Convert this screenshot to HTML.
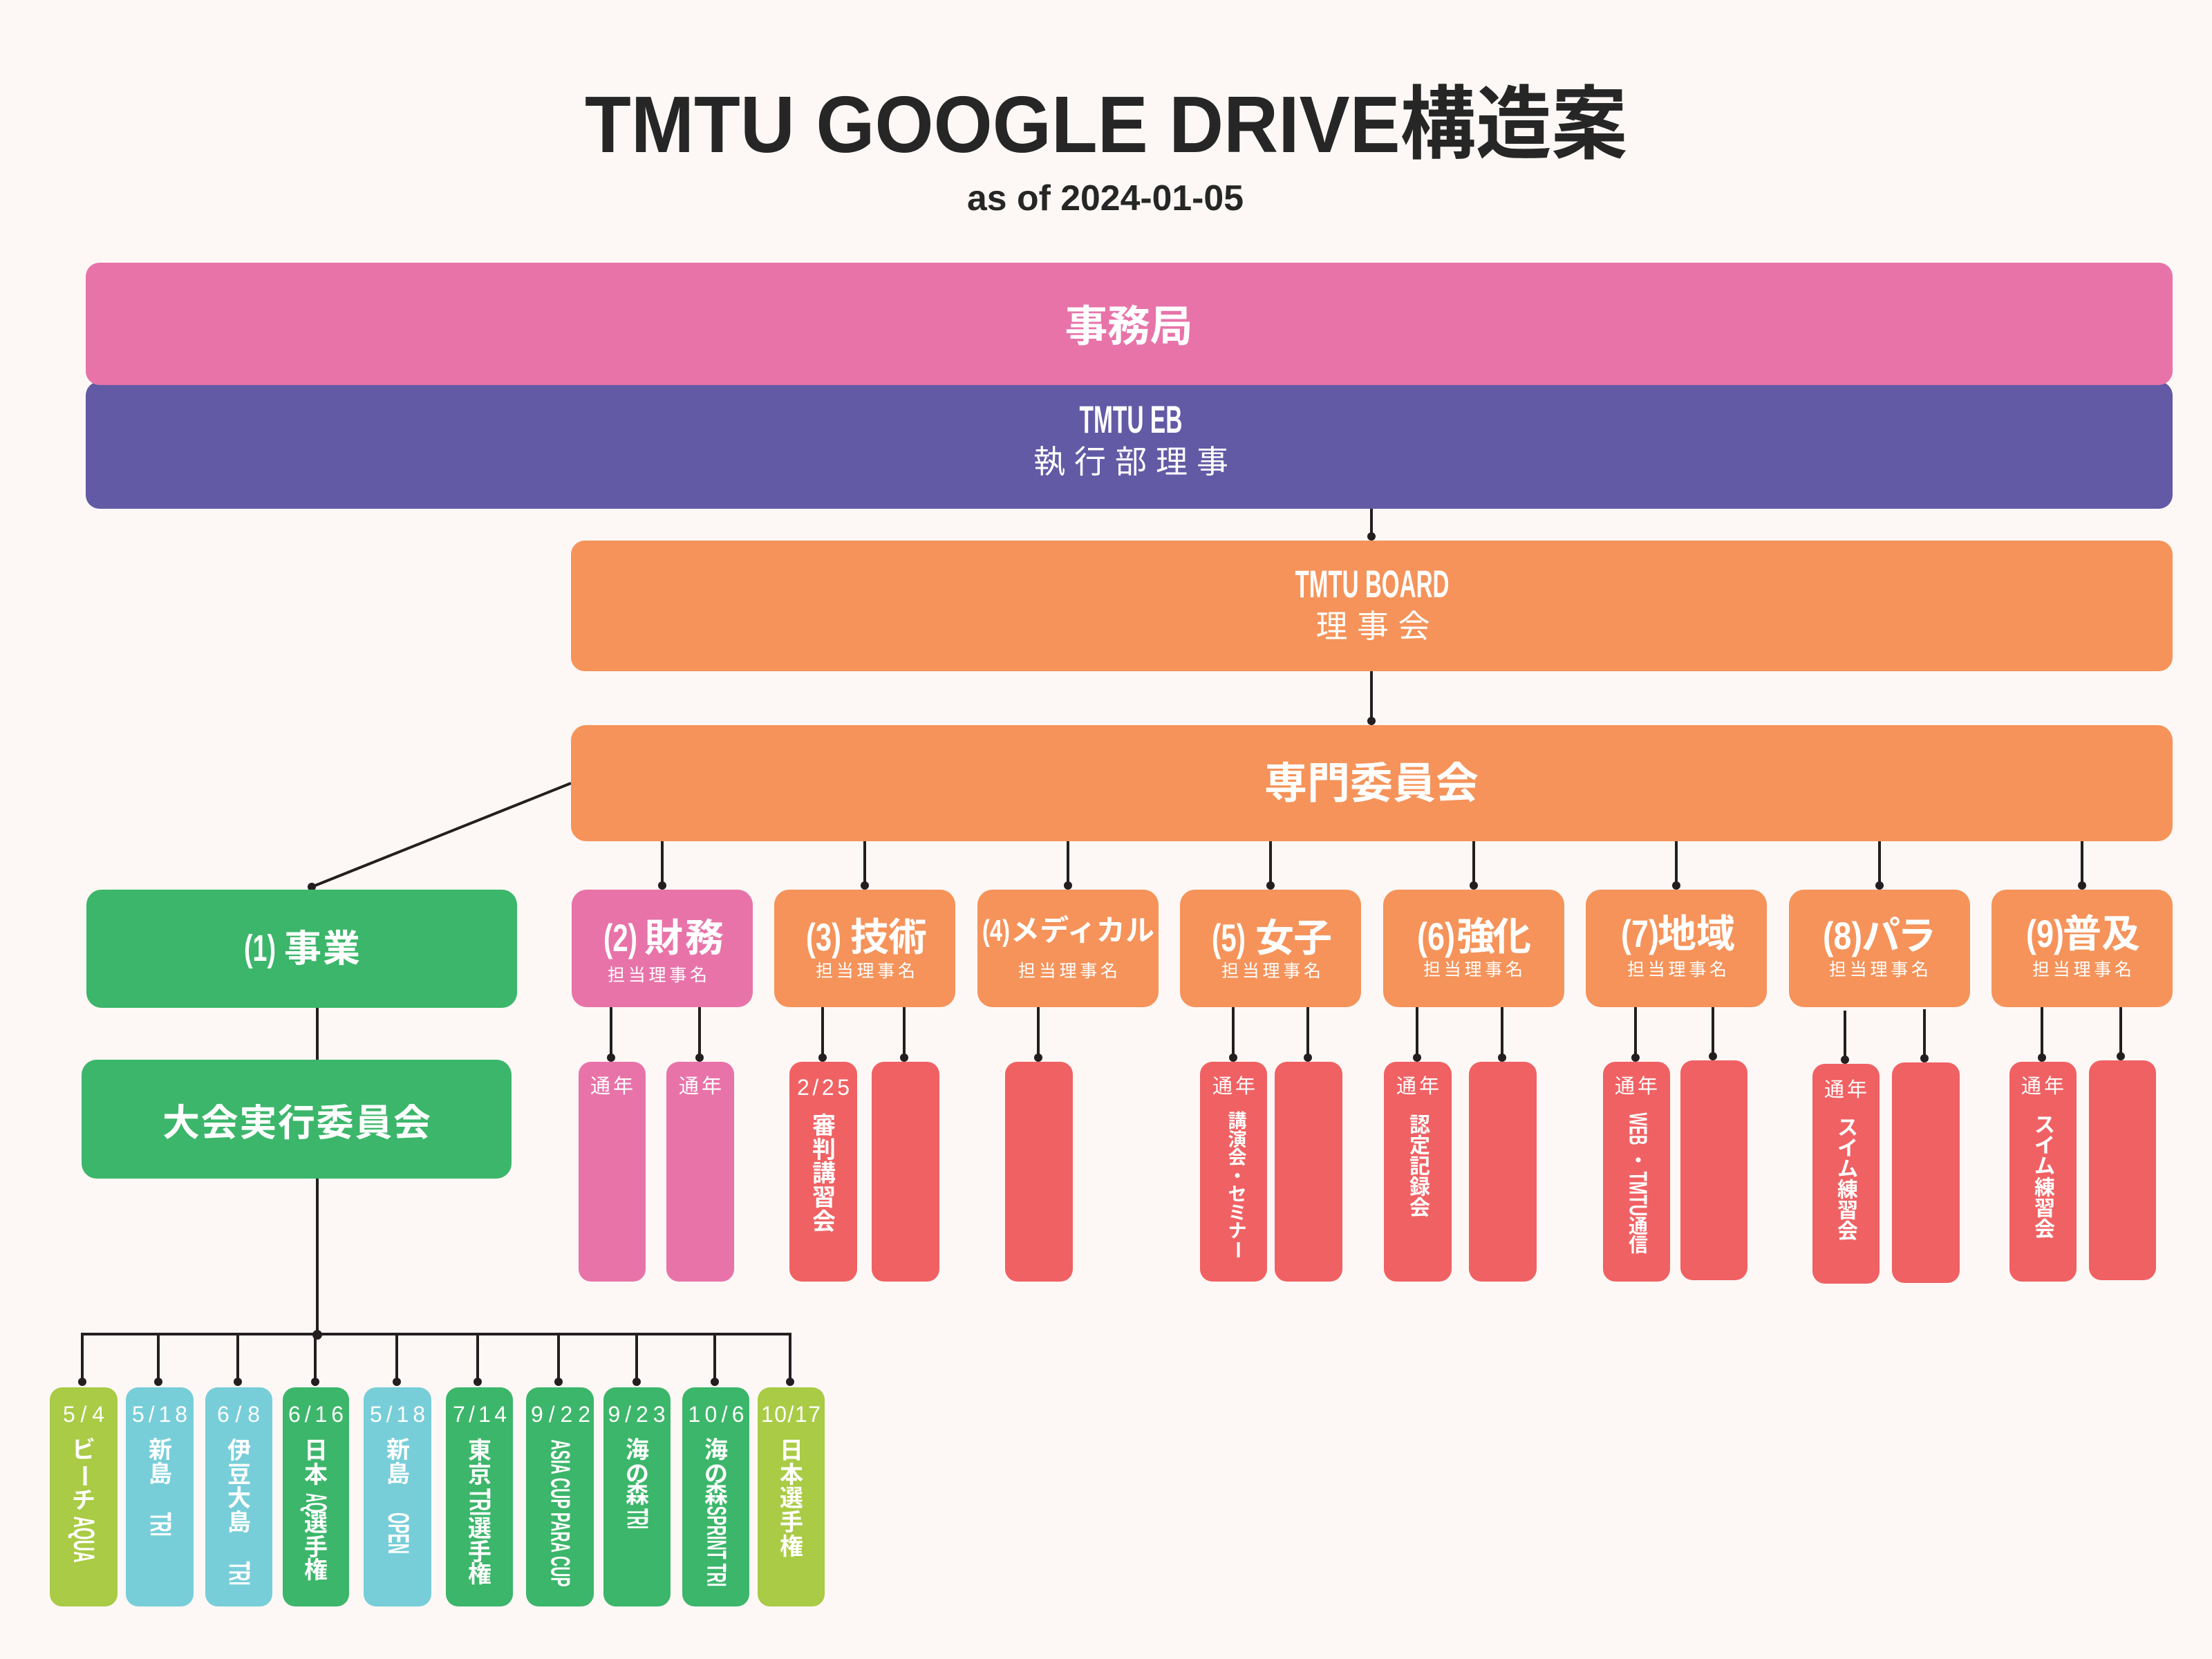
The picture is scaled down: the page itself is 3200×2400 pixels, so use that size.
<!DOCTYPE html>
<html><head><meta charset="utf-8">
<style>
html,body{margin:0;padding:0;background:#FDF8F5;}
svg{display:block;}
text{font-family:"Liberation Sans","Noto Sans CJK JP",sans-serif;}
.w{fill:#fff;}
.b{font-weight:700;}
.c{text-anchor:middle;dominant-baseline:central;}
</style></head>
<body>
<svg width="3200" height="2400" viewBox="0 0 3200 2400" xmlns="http://www.w3.org/2000/svg">
<rect x="0" y="0" width="3200" height="2400" fill="#FDF8F5"/>

<!-- Title -->
<text x="1600" y="220" text-anchor="middle" font-size="116" font-weight="700" fill="#262626" textLength="1508" lengthAdjust="spacingAndGlyphs">TMTU GOOGLE DRIVE構造案</text>
<text x="1599" y="304" text-anchor="middle" font-size="52" font-weight="700" fill="#262626" textLength="400" lengthAdjust="spacingAndGlyphs">as of 2024-01-05</text>

<!-- connectors -->
<g stroke="#231F20" stroke-width="4" fill="none">
  <line x1="1984" y1="734" x2="1984" y2="776"/>
  <line x1="1984" y1="970" x2="1984" y2="1043"/>
  <line x1="826" y1="1133" x2="451" y2="1283"/>
  <line x1="459" y1="1456" x2="459" y2="1534"/>
  <line x1="459" y1="1704" x2="459" y2="1931"/>
  <path d="M119 1999 V1930 H1143 V1999"/>
  <line x1="229" y1="1930" x2="229" y2="1999"/>
  <line x1="344" y1="1930" x2="344" y2="1999"/>
  <line x1="456" y1="1930" x2="456" y2="1999"/>
  <line x1="574" y1="1930" x2="574" y2="1999"/>
  <line x1="691" y1="1930" x2="691" y2="1999"/>
  <line x1="808" y1="1930" x2="808" y2="1999"/>
  <line x1="921" y1="1930" x2="921" y2="1999"/>
  <line x1="1034" y1="1930" x2="1034" y2="1999"/>
  <line x1="958" y1="1216" x2="958" y2="1282"/>
  <line x1="1251" y1="1216" x2="1251" y2="1282"/>
  <line x1="1545" y1="1216" x2="1545" y2="1282"/>
  <line x1="1838" y1="1216" x2="1838" y2="1282"/>
  <line x1="2132" y1="1216" x2="2132" y2="1282"/>
  <line x1="2425" y1="1216" x2="2425" y2="1282"/>
  <line x1="2719" y1="1216" x2="2719" y2="1282"/>
  <line x1="3012" y1="1216" x2="3012" y2="1282"/>
  <line x1="884" y1="1456" x2="884" y2="1530"/>
  <line x1="1012" y1="1456" x2="1012" y2="1530"/>
  <line x1="1190" y1="1456" x2="1190" y2="1530"/>
  <line x1="1308" y1="1456" x2="1308" y2="1530"/>
  <line x1="1502" y1="1456" x2="1502" y2="1530"/>
  <line x1="1784" y1="1456" x2="1784" y2="1530"/>
  <line x1="1892" y1="1456" x2="1892" y2="1530"/>
  <line x1="2050" y1="1456" x2="2050" y2="1530"/>
  <line x1="2173" y1="1456" x2="2173" y2="1530"/>
  <line x1="2366" y1="1456" x2="2366" y2="1530"/>
  <line x1="2478" y1="1456" x2="2478" y2="1528"/>
  <line x1="2669" y1="1462" x2="2669" y2="1533"/>
  <line x1="2784" y1="1460" x2="2784" y2="1531"/>
  <line x1="2954" y1="1456" x2="2954" y2="1530"/>
  <line x1="3068" y1="1456" x2="3068" y2="1528"/>
</g>
<g fill="#231F20">
  <circle cx="1984" cy="776" r="6"/>
  <circle cx="1984" cy="1043" r="6"/>
  <circle cx="451" cy="1283" r="6"/>
  <circle cx="459" cy="1931" r="7"/>
  <circle cx="119" cy="1999" r="6"/><circle cx="229" cy="1999" r="6"/><circle cx="344" cy="1999" r="6"/>
  <circle cx="456" cy="1999" r="6"/><circle cx="574" cy="1999" r="6"/><circle cx="691" cy="1999" r="6"/>
  <circle cx="808" cy="1999" r="6"/><circle cx="921" cy="1999" r="6"/><circle cx="1034" cy="1999" r="6"/>
  <circle cx="1143" cy="1999" r="6"/>
  <circle cx="958" cy="1281" r="6"/><circle cx="1251" cy="1281" r="6"/><circle cx="1545" cy="1281" r="6"/>
  <circle cx="1838" cy="1281" r="6"/><circle cx="2132" cy="1281" r="6"/><circle cx="2425" cy="1281" r="6"/>
  <circle cx="2719" cy="1281" r="6"/><circle cx="3012" cy="1281" r="6"/>
  <circle cx="884" cy="1530" r="6"/><circle cx="1012" cy="1530" r="6"/><circle cx="1190" cy="1530" r="6"/>
  <circle cx="1308" cy="1530" r="6"/><circle cx="1502" cy="1530" r="6"/><circle cx="1784" cy="1530" r="6"/>
  <circle cx="1892" cy="1530" r="6"/><circle cx="2050" cy="1530" r="6"/><circle cx="2173" cy="1530" r="6"/>
  <circle cx="2366" cy="1530" r="6"/><circle cx="2478" cy="1528" r="6"/><circle cx="2669" cy="1533" r="6"/>
  <circle cx="2784" cy="1531" r="6"/><circle cx="2954" cy="1530" r="6"/><circle cx="3068" cy="1528" r="6"/>
</g>

<!-- top bars -->
<rect x="124" y="552" width="3019" height="184" rx="20" fill="#625AA5"/>
<rect x="124" y="380" width="3019" height="177" rx="20" fill="#E873A9"/>
<text class="w b c" x="1633" y="473" font-size="62" textLength="185">事務局</text>
<text class="w b" x="1636" y="626" text-anchor="middle" font-size="56" textLength="149" lengthAdjust="spacingAndGlyphs">TMTU EB</text>
<text class="w c" x="1636" y="668" font-size="46" textLength="282">執行部理事</text>

<rect x="826" y="782" width="2317" height="189" rx="20" fill="#F5935A"/>
<text class="w b" x="1985" y="864" text-anchor="middle" font-size="56" textLength="223" lengthAdjust="spacingAndGlyphs">TMTU BOARD</text>
<text class="w c" x="1986" y="906" font-size="46" textLength="165">理事会</text>

<rect x="826" y="1049" width="2317" height="168" rx="22" fill="#F5935A"/>
<text class="w b c" x="1984" y="1134" font-size="62" textLength="310">専門委員会</text>

<!-- left green -->
<rect x="125" y="1287" width="623" height="171" rx="22" fill="#3CB66A"/>
<text class="w b" x="353" y="1390" font-size="54" textLength="46" lengthAdjust="spacingAndGlyphs">(1)</text>
<text class="w b" x="411" y="1373" font-size="54" dominant-baseline="central" textLength="110">事業</text>
<rect x="118" y="1533" width="622" height="172" rx="22" fill="#3CB66A"/>
<text class="w b c" x="429" y="1625" font-size="54" textLength="388">大会実行委員会</text>

<!-- committees -->
<rect x="827" y="1287" width="262" height="170" rx="22" fill="#E873A9"/>
<rect x="1120" y="1287" width="262" height="170" rx="22" fill="#F5935A"/>
<rect x="1414" y="1287" width="262" height="170" rx="22" fill="#F5935A"/>
<rect x="1707" y="1287" width="262" height="170" rx="22" fill="#F5935A"/>
<rect x="2001" y="1287" width="262" height="170" rx="22" fill="#F5935A"/>
<rect x="2294" y="1287" width="262" height="170" rx="22" fill="#F5935A"/>
<rect x="2588" y="1287" width="262" height="170" rx="22" fill="#F5935A"/>
<rect x="2881" y="1287" width="262" height="170" rx="22" fill="#F5935A"/>

<g class="w b">
<text x="873" y="1376" font-size="56" textLength="49" lengthAdjust="spacingAndGlyphs">(2)</text>
<text x="932" y="1357" font-size="56" dominant-baseline="central" textLength="115">財務</text>
<text x="1166" y="1375" font-size="56" textLength="51" lengthAdjust="spacingAndGlyphs">(3)</text>
<text x="1230" y="1356" font-size="56" dominant-baseline="central" textLength="111">技術</text>
<text x="1421" y="1361" font-size="44" textLength="40" lengthAdjust="spacingAndGlyphs">(4)</text>
<text x="1462" y="1346" font-size="42" dominant-baseline="central" textLength="208">メディカル</text>
<text x="1753" y="1376" font-size="56" textLength="49" lengthAdjust="spacingAndGlyphs">(5)</text>
<text x="1816" y="1357" font-size="56" dominant-baseline="central" textLength="111">女子</text>
<text x="2050" y="1374" font-size="56" textLength="55" lengthAdjust="spacingAndGlyphs">(6)</text>
<text x="2107" y="1355" font-size="56" dominant-baseline="central" textLength="108">強化</text>
<text x="2345" y="1370" font-size="56" textLength="55" lengthAdjust="spacingAndGlyphs">(7)</text>
<text x="2398" y="1351" font-size="56" dominant-baseline="central" textLength="112">地域</text>
<text x="2637" y="1373" font-size="56" textLength="57" lengthAdjust="spacingAndGlyphs">(8)</text>
<text x="2693" y="1354" font-size="56" dominant-baseline="central" textLength="108">パラ</text>
<text x="2931" y="1370" font-size="56" textLength="55" lengthAdjust="spacingAndGlyphs">(9)</text>
<text x="2984" y="1351" font-size="56" dominant-baseline="central" textLength="112">普及</text>
</g>
<g class="w c" font-size="25">
<text x="951" y="1411" textLength="144">担当理事名</text>
<text x="1252" y="1405" textLength="144">担当理事名</text>
<text x="1545" y="1405" textLength="144">担当理事名</text>
<text x="1839" y="1405" textLength="144">担当理事名</text>
<text x="2131" y="1403" textLength="144">担当理事名</text>
<text x="2426" y="1403" textLength="144">担当理事名</text>
<text x="2718" y="1403" textLength="144">担当理事名</text>
<text x="3012" y="1403" textLength="144">担当理事名</text>
</g>

<!-- sub boxes -->
<rect x="837" y="1536" width="97" height="318" rx="18" fill="#E873A9"/>
<rect x="964" y="1536" width="98" height="318" rx="18" fill="#E873A9"/>
<rect x="1142" y="1536" width="98" height="318" rx="18" fill="#F06163"/>
<rect x="1261" y="1536" width="98" height="318" rx="18" fill="#F06163"/>
<rect x="1454" y="1536" width="98" height="318" rx="18" fill="#F06163"/>
<rect x="1736" y="1536" width="97" height="318" rx="18" fill="#F06163"/>
<rect x="1844" y="1536" width="98" height="318" rx="18" fill="#F06163"/>
<rect x="2002" y="1536" width="98" height="318" rx="18" fill="#F06163"/>
<rect x="2125" y="1536" width="98" height="318" rx="18" fill="#F06163"/>
<rect x="2319" y="1536" width="97" height="318" rx="18" fill="#F06163"/>
<rect x="2431" y="1534" width="97" height="318" rx="18" fill="#F06163"/>
<rect x="2622" y="1539" width="97" height="318" rx="18" fill="#F06163"/>
<rect x="2737" y="1537" width="98" height="319" rx="18" fill="#F06163"/>
<rect x="2907" y="1536" width="97" height="318" rx="18" fill="#F06163"/>
<rect x="3022" y="1534" width="97" height="318" rx="18" fill="#F06163"/>

<g class="w c" font-size="29">
<text x="885" y="1572" textLength="62">通年</text>
<text x="1013" y="1572" textLength="62">通年</text>
<text x="1785" y="1572" textLength="62">通年</text>
<text x="2051" y="1572" textLength="62">通年</text>
<text x="2367" y="1572" textLength="62">通年</text>
<text x="2670" y="1577" textLength="62">通年</text>
<text x="2955" y="1572" textLength="62">通年</text>
<text x="1191" y="1573" font-size="32" textLength="76">2/25</text>
</g>

<g class="w b c" font-size="34">
<text x="1192" y="1629">審</text><text x="1192" y="1664">判</text><text x="1192" y="1698">講</text><text x="1192" y="1733">習</text><text x="1192" y="1768">会</text>
</g>
<g class="w b c" font-size="27">
<text x="1790" y="1622">講</text><text x="1790" y="1649">演</text><text x="1790" y="1675">会</text><text x="1790" y="1702">・</text><text x="1790" y="1728">セ</text><text x="1790" y="1755">ミ</text><text x="1790" y="1781">ナ</text><text x="1790" y="1808" transform="rotate(90 1790 1808)">ー</text>
</g>
<g class="w b c" font-size="30">
<text x="2054" y="1628">認</text><text x="2054" y="1658">定</text><text x="2054" y="1688">記</text><text x="2054" y="1718">録</text><text x="2054" y="1748">会</text>
<text x="2673" y="1632">ス</text><text x="2673" y="1662">イ</text><text x="2673" y="1692">ム</text><text x="2673" y="1722">練</text><text x="2673" y="1752">習</text><text x="2673" y="1782">会</text>
<text x="2958" y="1628">ス</text><text x="2958" y="1658">イ</text><text x="2958" y="1688">ム</text><text x="2958" y="1719">練</text><text x="2958" y="1749">習</text><text x="2958" y="1779">会</text>
</g>
<g class="w b c">
<text x="2370" y="1633" font-size="36" transform="rotate(90 2370 1633)" textLength="47" lengthAdjust="spacingAndGlyphs">WEB</text>
<text x="2370" y="1679" font-size="28">・</text>
<text x="2370" y="1727" font-size="36" transform="rotate(90 2370 1727)" textLength="65" lengthAdjust="spacingAndGlyphs">TMTU</text>
<text x="2370" y="1774" font-size="28">通</text>
<text x="2370" y="1801" font-size="28">信</text>
</g>

<!-- event boxes -->
<rect x="72" y="2007" width="98" height="317" rx="18" fill="#A9CB45"/>
<rect x="182" y="2007" width="98" height="317" rx="18" fill="#77CED9"/>
<rect x="297" y="2007" width="97" height="317" rx="18" fill="#77CED9"/>
<rect x="409" y="2007" width="96" height="317" rx="18" fill="#3CB66A"/>
<rect x="526" y="2007" width="98" height="317" rx="18" fill="#77CED9"/>
<rect x="645" y="2007" width="97" height="317" rx="18" fill="#3CB66A"/>
<rect x="761" y="2007" width="98" height="317" rx="18" fill="#3CB66A"/>
<rect x="873" y="2007" width="97" height="317" rx="18" fill="#3CB66A"/>
<rect x="987" y="2007" width="97" height="317" rx="18" fill="#3CB66A"/>
<rect x="1096" y="2007" width="97" height="317" rx="18" fill="#A9CB45"/>

<g class="w c" font-size="32">
<text x="121" y="2046" textLength="60">5/4</text>
<text x="231" y="2046" textLength="80">5/18</text>
<text x="345" y="2046" textLength="62">6/8</text>
<text x="457" y="2046" textLength="80">6/16</text>
<text x="575" y="2046" textLength="80">5/18</text>
<text x="694" y="2046" textLength="78">7/14</text>
<text x="811" y="2046" textLength="86">9/22</text>
<text x="921" y="2046" textLength="83">9/23</text>
<text x="1036" y="2046" textLength="81">10/6</text>
<text x="1144" y="2046" textLength="86">10/17</text>
</g>

<g class="w b c" font-size="34">
<text x="121" y="2098">ビ</text>
<text x="121" y="2135" transform="rotate(90 121 2135)">ー</text>
<text x="121" y="2171">チ</text>
<text x="232" y="2098">新</text><text x="232" y="2133">島</text>
<text x="346" y="2099">伊</text><text x="346" y="2134">豆</text><text x="346" y="2168">大</text><text x="346" y="2203">島</text>
<text x="457" y="2099">日</text><text x="457" y="2134">本</text><text x="457" y="2204">選</text><text x="457" y="2239">手</text><text x="457" y="2272">権</text>
<text x="576" y="2098">新</text><text x="576" y="2133">島</text>
<text x="694" y="2099">東</text><text x="694" y="2134">京</text><text x="694" y="2212">選</text><text x="694" y="2246">手</text><text x="694" y="2278">権</text>
<text x="922" y="2098">海</text><text x="922" y="2133">の</text><text x="922" y="2163">森</text>
<text x="1036" y="2098">海</text><text x="1036" y="2133">の</text><text x="1036" y="2163">森</text>
<text x="1145" y="2099">日</text><text x="1145" y="2134">本</text><text x="1145" y="2168">選</text><text x="1145" y="2203">手</text><text x="1145" y="2238">権</text>
</g>
<g class="w b c" font-size="43">
<text x="121" y="2227" transform="rotate(90 121 2227)" textLength="67" lengthAdjust="spacingAndGlyphs">AQUA</text>
<text x="232" y="2205" transform="rotate(90 232 2205)" textLength="35" lengthAdjust="spacingAndGlyphs">TRI</text>
<text x="346" y="2276" transform="rotate(90 346 2276)" textLength="35" lengthAdjust="spacingAndGlyphs">TRI</text>
<text x="457" y="2174" transform="rotate(90 457 2174)" textLength="28" lengthAdjust="spacingAndGlyphs">AQ</text>
<text x="576" y="2218" transform="rotate(90 576 2218)" textLength="60" lengthAdjust="spacingAndGlyphs">OPEN</text>
<text x="694" y="2173" transform="rotate(90 694 2173)" textLength="40" lengthAdjust="spacingAndGlyphs">TRI</text>
<text x="810" y="2189" font-size="39" transform="rotate(90 810 2189)" textLength="213" lengthAdjust="spacingAndGlyphs">ASIA CUP PARA CUP</text>
<text x="922" y="2197" transform="rotate(90 922 2197)" textLength="30" lengthAdjust="spacingAndGlyphs">TRI</text>
<text x="1036" y="2237" font-size="39" transform="rotate(90 1036 2237)" textLength="117" lengthAdjust="spacingAndGlyphs">SPRINT TRI</text>
</g>
</svg>
</body></html>
